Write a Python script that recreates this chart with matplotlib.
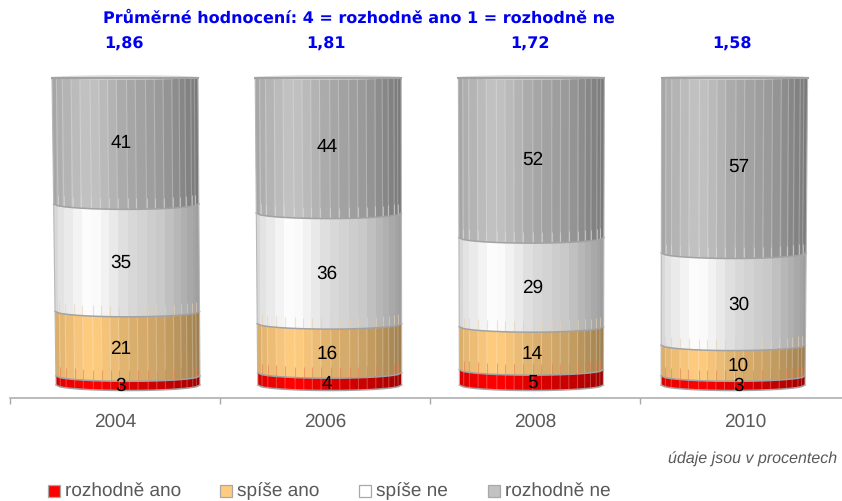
import numpy as np
import matplotlib
matplotlib.use("Agg")
import matplotlib.pyplot as plt
from matplotlib.path import Path
from matplotlib.patches import PathPatch, Rectangle, Ellipse
from matplotlib.colors import to_rgb

plt.rcParams["text.hinting"] = "no_hinting"
plt.rcParams["text.hinting_factor"] = 1

years = ["2004", "2006", "2008", "2010"]
rozhodne_ano = [3, 4, 5, 3]
spise_ano = [21, 16, 14, 10]
spise_ne = [35, 36, 29, 30]
rozhodne_ne = [41, 44, 52, 57]
mean_labels = ["1,86", "1,81", "1,72", "1,58"]
series_names = ["rozhodně ano", "spíše ano", "spíše ne", "rozhodně ne"]
series_colors = ["#FF0000", "#FFCC7F", "#FFFFFF", "#C2C2C2"]
title_text = "Průměrné hodnocení: 4 = rozhodně ano 1 = rozhodně ne"
note_text = "údaje jsou v procentech"

W, H = 842, 501
AX_L, AX_BASE, SLOT = 10, 398, 210
ZERO_PX, UNIT_PX = 385, 3.07
SAG_PX = 5.5
FACET_FRACS = [.03, .07, .13, .19, .26, .32, .38, .44, .51, .57, .64, .70,
               .76, .82, .87, .91, .95, .975]
SHADE_X = [0, .05, .22, .30, .50, .75, .95, 1]
SHADE_Y = [.84, .90, 1.0, .99, .87, .79, .66, .62]
LEG_BOX_X = [48, 220, 359, 488]
LEG_TEXT_X = [65, 237, 376, 505]

fig = plt.figure(figsize=(W / 100, H / 100), dpi=100, facecolor="white")
ax = fig.add_axes([AX_L / W, (H - AX_BASE) / H, (W - AX_L) / W, AX_BASE / H])
xlim = (-0.5, -0.5 + (W - AX_L) / SLOT)
ylim = ((ZERO_PX - AX_BASE) / UNIT_PX, ZERO_PX / UNIT_PX)


def px_x(p):
    return (p - AX_L) / SLOT - 0.5


def frac_x(p):
    return p / W


def frac_y(p):
    return 1 - p / H


sag = SAG_PX / UNIT_PX


def bar_geom(i, v):
    t = v / 100
    c = (128 + 201.7 * i) * (1 - t) + (125 + 203.2 * i) * t
    hw = 72 * (1 - t) + 73 * t
    return c, hw


def arc(i, v, n=41, reverse=False):
    c, hw = bar_geom(i, v)
    u = np.linspace(-1, 1, n)
    xs = px_x(c + hw * u)
    ys = v - sag * np.sqrt(1 - u ** 2)
    if reverse:
        return xs[::-1], ys[::-1]
    return xs, ys


levels = np.cumsum([rozhodne_ano, spise_ano, spise_ne, rozhodne_ne], axis=0)
levels = np.vstack([np.zeros(len(years)), levels])
fac_edges = np.array([0] + FACET_FRACS + [1])
z = 2
for i in range(len(years)):
    for s, colr in enumerate(series_colors):
        v0, v1 = levels[s, i], levels[s + 1, i]
        bx, by = arc(i, v0)
        if s == 3:
            c, hw = bar_geom(i, v1)
            tx, ty = np.array([px_x(c + hw), px_x(c - hw)]), np.array([v1, v1])
        else:
            tx, ty = arc(i, v1, reverse=True)
        verts = np.column_stack([np.r_[bx, tx, bx[0]], np.r_[by, ty, by[0]]])
        patch = PathPatch(Path(verts), fc="none", ec="none", zorder=z)
        ax.add_patch(patch)
        # faceted horizontal shading
        u = np.linspace(0, 1, 300)
        idx = np.clip(np.searchsorted(fac_edges, u, side="right") - 1, 0, len(fac_edges) - 2)
        mids = (fac_edges[idx] + fac_edges[idx + 1]) / 2
        shade = np.interp(mids, SHADE_X, SHADE_Y)
        if s == 2:
            shade = np.clip(shade * .99, 0, 1)
        img = np.array(to_rgb(colr))[None, None, :] * shade[None, :, None]
        c0, hw0 = bar_geom(i, v0)
        c1, hw1 = bar_geom(i, v1)
        xa = px_x(min(c0 - hw0, c1 - hw1))
        xb = px_x(max(c0 + hw0, c1 + hw1))
        im = ax.imshow(img, extent=(xa, xb, v0 - sag, v1), aspect="auto",
                       interpolation="nearest", zorder=z)
        im.set_clip_path(patch)
        # facet highlights
        for f in FACET_FRACS:
            ca, ha = bar_geom(i, v0)
            cb, hb = bar_geom(i, v1)
            uu = 2 * f - 1
            sg0 = sag * np.sqrt(1 - uu ** 2)
            sgt = 0 if s == 3 else sg0
            xx = [px_x(ca + ha * uu), px_x(cb + hb * uu)]
            ax.plot(xx, [v0 - sg0, v1 - sgt], color="white",
                    alpha=.24 if s != 2 else .0, lw=.8, zorder=z + .1,
                    solid_capstyle="butt")
            # tint of the lower band running up into this one
            if s > 0:
                tick_c = {1: "#E58050", 2: "#E8D2B0", 3: "#DADADA"}[s]
                ax.plot([xx[0], xx[0]], [v0 - sg0, v0 - sg0 + 11 / UNIT_PX],
                        color=tick_c, alpha=.6, lw=.8, zorder=z + .15,
                        solid_capstyle="butt")
        # band outline
        ax.plot(bx, by, color="#A2A2A2", lw=1.1, zorder=z + .2)
        c, hw = bar_geom(i, v0)
        cc, hwc = bar_geom(i, v1)
        for side in (-1, 1):
            ax.plot([px_x(c + side * hw), px_x(cc + side * hwc)], [v0, v1],
                    color="#B8B8B8", lw=.8, zorder=z + .2)
        z += 1
    # flat top cap
    c, hw = bar_geom(i, 100)
    ax.add_patch(Ellipse((px_x(c), 100 + .2), 2 * (hw + 1.5) / SLOT, 4.5 / UNIT_PX,
                         fc="#DCDCDC", ec="none", zorder=z))
    ax.plot([px_x(c - hw - 1), px_x(c + hw + 1)], [100 - .1, 100 - .1],
            color="#A2A2A2", lw=1.5, zorder=z + .1, solid_capstyle="butt")
    z += 1

# value labels
series_vals = [rozhodne_ano, spise_ano, spise_ne, rozhodne_ne]
for i in range(len(years)):
    c, _ = bar_geom(i, 0)
    lx = (i + px_x(c)) / 2
    for s, vals in enumerate(series_vals):
        mid = (levels[s, i] + levels[s + 1, i]) / 2
        ax.annotate(str(vals[i]), (lx, mid), xytext=(-0.5, -1.2 if s == 3 else -4.0),
                    textcoords="offset points", ha="center", va="center",
                    fontsize=13.8, family="Liberation Sans", color="black",
                    zorder=500, annotation_clip=False)

ax.set_xlim(*xlim)
ax.set_ylim(*ylim)
for sp in ("top", "left", "right"):
    ax.spines[sp].set_visible(False)
ax.spines["bottom"].set_color("#A8A8A8")
ax.spines["bottom"].set_linewidth(1.1)
ax.set_yticks([])
ax.set_xticks(range(len(years)))
ax.set_xticklabels(years, family="Liberation Sans", fontsize=13.5, color="#595959")
ax.tick_params(axis="x", which="major", length=0, pad=10.7)
ax.set_xticks(np.arange(len(years)) - 0.5, minor=True)
ax.tick_params(axis="x", which="minor", length=4, width=1, color="#A8A8A8")
ax.patch.set_alpha(0)

# header texts
fig.text(frac_x(103), frac_y(18), title_text, ha="left", va="center", color="#0000F0",
         fontsize=11.55, fontweight="bold", family="DejaVu Sans")
for x_c, t in zip([123.5, 326, 529.5, 732], mean_labels):
    fig.text(frac_x(x_c), frac_y(44), t, ha="center", va="center", color="#0000F0",
             fontsize=11.8, fontweight="bold", family="DejaVu Sans")
fig.text(frac_x(837), frac_y(459), note_text, ha="right", va="center", color="#595959",
         fontsize=11.75, style="italic", family="Liberation Sans")

# legend row
for bx_px, tx_px, colr, name in zip(LEG_BOX_X, LEG_TEXT_X, series_colors, series_names):
    fig.add_artist(Rectangle((frac_x(bx_px), frac_y(497)), 12 / W, 12 / H,
                             transform=fig.transFigure, fc=colr, ec="#A8A8A8", lw=.9))
    fig.text(frac_x(tx_px), frac_y(496.5), name, ha="left", va="baseline", color="#595959",
             fontsize=13.9, family="Liberation Sans")

fig.savefig("out.png", dpi=100, facecolor="white")
